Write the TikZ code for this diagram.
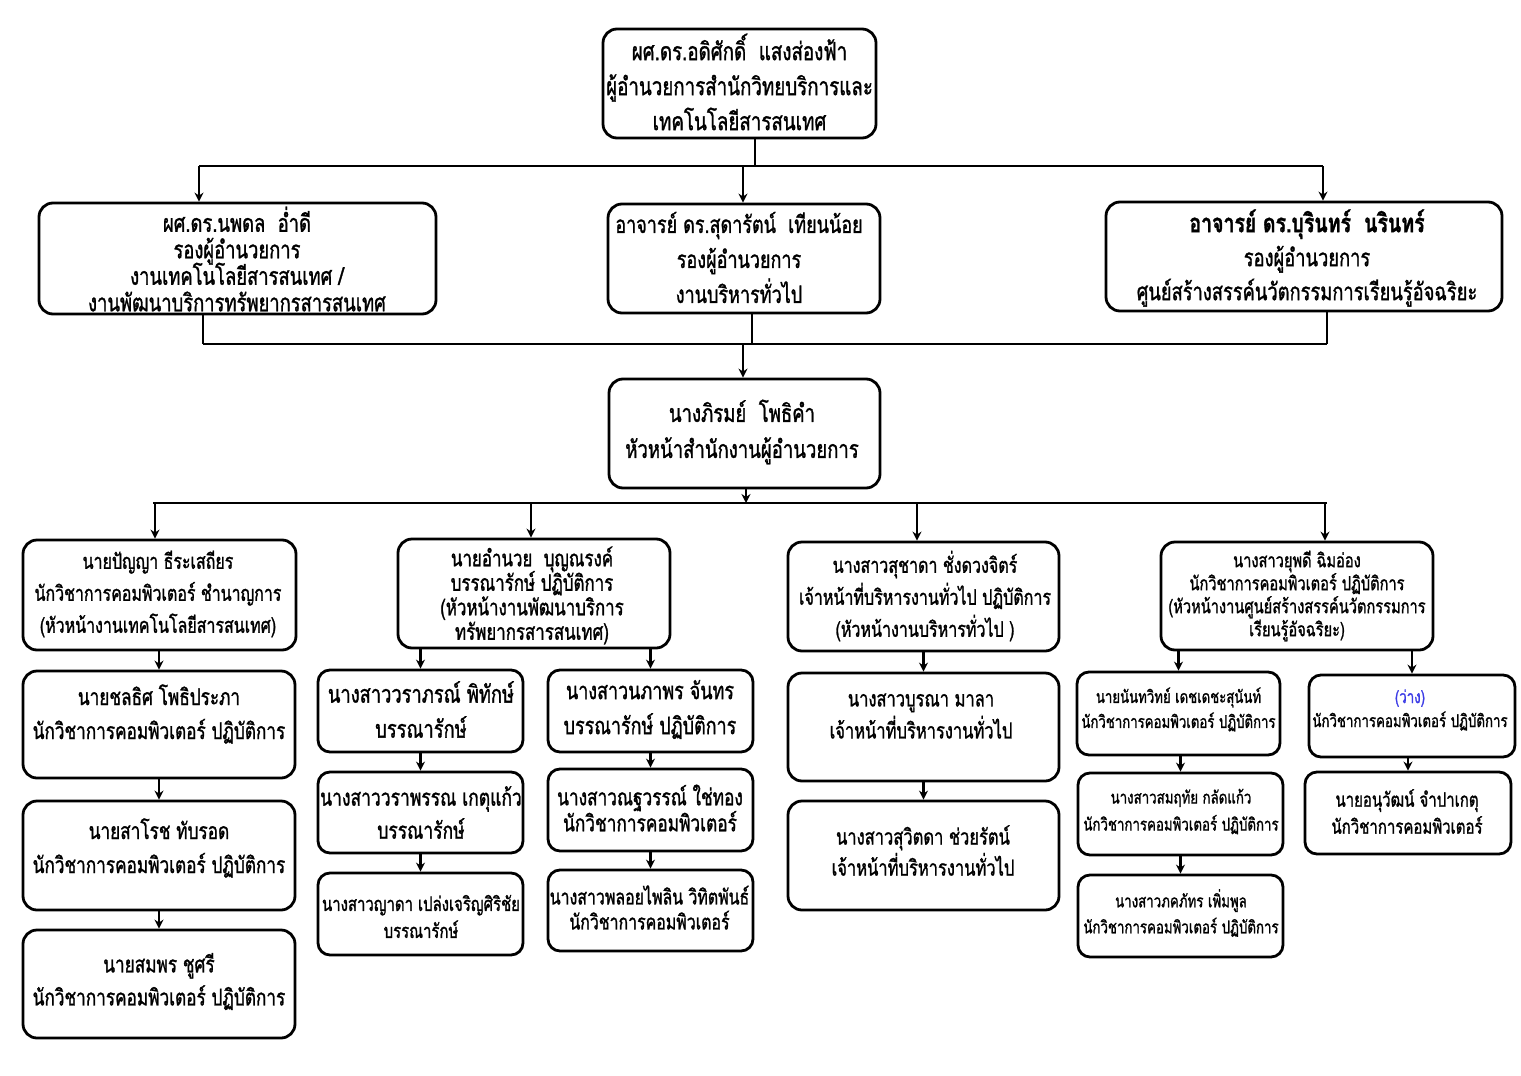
\documentclass[tikz,border=0pt]{standalone}
\usepackage{fontspec}
\setmainfont[Script=Thai, FakeStretch=0.75, FakeBold=1.2]{Loma}
\usetikzlibrary{arrows.meta}
\newcommand\tfs[2]{\fontsize{#1}{#2}\selectfont\lineskiplimit=-100pt\lineskip=0pt}
\definecolor{vacant}{RGB}{60,60,230}
\begin{document}
\begin{tikzpicture}[x=1pt,y=-1pt,
  box/.style={draw, line width=2.8pt, rounded corners=14pt, inner sep=0pt, fill=white},
  sbox/.style={box, rounded corners=12pt},
  txt/.style={align=center, inner sep=0pt, execute at begin node={\lineskiplimit=-100pt\lineskip=0pt}},
  conn/.style={line width=2.2pt},
  bus/.style={line width=2.8pt},
  arr/.style={conn, -{Stealth[length=9pt,width=9pt]}}]
\useasboundingbox (0,0) rectangle (1521,1076);
\fill[white] (0,0) rectangle (1521,1076);

% ---------- boxes ----------
\node[box, minimum width=273pt, minimum height=109pt] (top) at (739.5,83.5) {};
\node[box, minimum width=397pt, minimum height=111pt] (L2a) at (237.5,258.5) {};
\node[box, minimum width=272pt, minimum height=109pt] (L2b) at (744,258.5) {};
\node[box, minimum width=396pt, minimum height=109pt] (L2c) at (1304,256.5) {};
\node[box, minimum width=271pt, minimum height=109pt] (mid) at (744.5,433.5) {};

\node[box, minimum width=273pt, minimum height=110pt] (A) at (159.5,595) {};
\node[box, minimum width=272pt, minimum height=109pt] (B) at (534,593.5) {};
\node[box, minimum width=271pt, minimum height=109pt] (C) at (923.5,596.5) {};
\node[box, minimum width=272pt, minimum height=108pt] (D) at (1297,596) {};

\node[box, minimum width=272pt, minimum height=107pt] (A1) at (159,724.5) {};
\node[box, minimum width=272pt, minimum height=109pt] (A2) at (159,855.5) {};
\node[box, minimum width=272pt, minimum height=108pt] (A3) at (159,984) {};

\node[sbox, minimum width=205pt, minimum height=82pt] (B1) at (420.5,711) {};
\node[sbox, minimum width=205pt, minimum height=81pt] (B1b) at (420.5,812.5) {};
\node[sbox, minimum width=205pt, minimum height=82pt] (B1c) at (420.5,914) {};
\node[sbox, minimum width=205pt, minimum height=82pt] (B2) at (650.5,711) {};
\node[sbox, minimum width=205pt, minimum height=82pt] (B2b) at (650.5,810) {};
\node[sbox, minimum width=205pt, minimum height=81pt] (B2c) at (650.5,910.5) {};

\node[box, minimum width=271pt, minimum height=108pt] (C1) at (923.5,727) {};
\node[box, minimum width=271pt, minimum height=109pt] (C2) at (923.5,855.5) {};

\node[sbox, minimum width=203pt, minimum height=83pt] (D1) at (1178.5,713.5) {};
\node[sbox, minimum width=205pt, minimum height=82pt] (D1b) at (1180.5,814) {};
\node[sbox, minimum width=205pt, minimum height=82pt] (D1c) at (1180.5,916) {};
\node[sbox, minimum width=206pt, minimum height=82pt] (D2) at (1412,716) {};
\node[sbox, minimum width=206pt, minimum height=82pt] (D2b) at (1408,813) {};

% ---------- texts ----------
\node[txt, font=\tfs{25}{35}] (top-t) at (739.5,82) {ผศ.ดร.อดิศักดิ์~~แสงส่องฟ้า\\ผู้อำนวยการสำนักวิทยบริการและ\\เทคโนโลยีสารสนเทศ};
\node[txt, font=\tfs{24.5}{26.5}] (L2a-t) at (237,259) {ผศ.ดร.นพดล~~อ่ำดี\\รองผู้อำนวยการ\\งานเทคโนโลยีสารสนเทศ /\\งานพัฒนาบริการทรัพยากรสารสนเทศ};
\node[txt, font=\tfs{24}{35}] (L2b-t) at (739,257.5) {อาจารย์ ดร.สุดารัตน์~~เทียนน้อย\\รองผู้อำนวยการ\\งานบริหารทั่วไป};
\node[txt, font=\tfs{24.4}{34}] (L2c-t) at (1307,258) {{\bfseries\fontsize{26}{34}\selectfont อาจารย์ ดร.บุรินทร์~~นรินทร์}\\รองผู้อำนวยการ\\ศูนย์สร้างสรรค์นวัตกรรมการเรียนรู้อัจฉริยะ};
\node[txt, font=\tfs{24.7}{36}] (mid-t) at (742,432) {นางภิรมย์~~โพธิคำ\\หัวหน้าสำนักงานผู้อำนวยการ};

\node[txt, font=\tfs{21.3}{32}] (A-t) at (158,594) {นายปัญญา ธีระเสถียร\\นักวิชาการคอมพิวเตอร์ ชำนาญการ\\(หัวหน้างานเทคโนโลยีสารสนเทศ)};
\node[txt, font=\tfs{22.5}{24.5}] (B-t) at (532,595.5) {นายอำนวย~~บุญณรงค์\\บรรณารักษ์ ปฏิบัติการ\\(หัวหน้างานพัฒนาบริการ\\ทรัพยากรสารสนเทศ)};
\node[txt, font=\tfs{21.4}{32}] (C-t) at (925,596) {นางสาวสุชาดา ชั่งดวงจิตร์\\เจ้าหน้าที่บริหารงานทั่วไป ปฏิบัติการ\\(หัวหน้างานบริหารทั่วไป )};
\node[txt, font=\tfs{19.5}{23}] (D-t) at (1297,596) {นางสาวยุพดี ฉิมอ่อง\\นักวิชาการคอมพิวเตอร์ ปฏิบัติการ\\(หัวหน้างานศูนย์สร้างสรรค์นวัตกรรมการ\\เรียนรู้อัจฉริยะ)};

\node[txt, font=\tfs{22.9}{34}] (A1-t) at (159,714) {นายชลธิศ โพธิประภา\\นักวิชาการคอมพิวเตอร์ ปฏิบัติการ};
\node[txt, font=\tfs{22.9}{34}] (A2-t) at (159,848) {นายสาโรช ทับรอด\\นักวิชาการคอมพิวเตอร์ ปฏิบัติการ};
\node[txt, font=\tfs{22.9}{33}] (A3-t) at (159,981.5) {นายสมพร ชูศรี\\นักวิชาการคอมพิวเตอร์ ปฏิบัติการ};

\node[txt, font=\tfs{24.4}{35}] (B1-t) at (421,709.5) {นางสาววราภรณ์ พิทักษ์\\บรรณารักษ์};
\node[txt, font=\tfs{23.3}{33}] (B1b-t) at (421,812.5) {นางสาววราพรรณ เกตุแก้ว\\บรรณารักษ์};
\node[txt, font=\tfs{19.9}{27}] (B1c-t) at (421,916.5) {นางสาวญาดา เปล่งเจริญศิริชัย\\บรรณารักษ์};
\node[txt, font=\tfs{23.9}{35}] (B2-t) at (650,709.5) {นางสาวนภาพร จันทร\\บรรณารักษ์ ปฏิบัติการ};
\node[txt, font=\tfs{23}{26}] (B2b-t) at (650,808) {นางสาวณฐวรรณ์ ใช่ทอง\\นักวิชาการคอมพิวเตอร์};
\node[txt, font=\tfs{21.2}{25}] (B2c-t) at (649.5,907.5) {นางสาวพลอยไพลิน วิทิตพันธ์\\นักวิชาการคอมพิวเตอร์};

\node[txt, font=\tfs{22}{32}] (C1-t) at (921,716) {นางสาวบูรณา มาลา\\เจ้าหน้าที่บริหารงานทั่วไป};
\node[txt, font=\tfs{22}{31}] (C2-t) at (923,850.5) {นางสาวสุวิตดา ช่วยรัตน์\\เจ้าหน้าที่บริหารงานทั่วไป};

\node[txt, font=\tfs{17.6}{25}] (D1-t) at (1178.5,709.5) {นายนันทวิทย์ เดชเดชะสุนันท์\\นักวิชาการคอมพิวเตอร์ ปฏิบัติการ};
\node[txt, font=\tfs{17.7}{27}] (D1b-t) at (1181,811.5) {นางสาวสมฤทัย กลัดแก้ว\\นักวิชาการคอมพิวเตอร์ ปฏิบัติการ};
\node[txt, font=\tfs{17.7}{26}] (D1c-t) at (1181,913) {นางสาวภคภัทร เพิ่มพูล\\นักวิชาการคอมพิวเตอร์ ปฏิบัติการ};
\node[txt, font=\tfs{17.7}{24}] (D2-t) at (1410,710) {{\color{vacant}(ว่าง)}\\นักวิชาการคอมพิวเตอร์ ปฏิบัติการ};
\node[txt, font=\tfs{20}{27}] (D2b-t) at (1407,811.5) {นายอนุวัฒน์ จำปาเกตุ\\นักวิชาการคอมพิวเตอร์};

% ---------- connectors ----------
\coordinate (j1) at (755,166);
\coordinate (b1l) at (199,166);
\coordinate (b1m) at (743,166);
\coordinate (b1r) at (1323,166);
\draw[conn] (top.south -| j1) -- (j1);
\draw[bus] (b1l) -- (b1r);
\draw[arr] (b1l) -- (b1l |- L2a.north);
\draw[arr] (b1m) -- (b1m |- L2b.north);
\draw[arr] (b1r) -- (b1r |- L2c.north);

\coordinate (b2l) at (203,344);
\coordinate (b2c) at (752,344);
\coordinate (b2m) at (743,344);
\coordinate (b2r) at (1327,344);
\draw[conn] (b2l |- L2a.south) -- (b2l);
\draw[conn] (b2c |- L2b.south) -- (b2c);
\draw[conn] (b2r |- L2c.south) -- (b2r);
\draw[bus] (b2l) -- (b2r);
\draw[arr] (b2m) -- (b2m |- mid.north);

\coordinate (b3m) at (746,503);
\coordinate (b3l) at (153,503);
\coordinate (b3r) at (1327,503);
\coordinate (b3a) at (155,503);
\coordinate (b3b) at (531,503);
\coordinate (b3c) at (917,503);
\coordinate (b3d) at (1325,503);
\draw[arr] (b3m |- mid.south) -- (b3m);
\draw[bus] (b3l) -- (b3r);
\draw[arr] (b3a) -- (b3a |- A.north);
\draw[arr] (b3b) -- (b3b |- B.north);
\draw[arr] (b3c) -- (b3c |- C.north);
\draw[arr] (b3d) -- (b3d |- D.north);

\draw[arr] (A1.north |- A.south) -- (A1.north);
\draw[arr] (A1.south) -- (A2.north);
\draw[arr] (A2.south) -- (A3.north);

\draw[arr] (B1.north |- B.south) -- (B1.north);
\draw[arr] (B2.north |- B.south) -- (B2.north);
\draw[arr] (B1.south) -- (B1b.north);
\draw[arr] (B1b.south) -- (B1c.north);
\draw[arr] (B2.south) -- (B2b.north);
\draw[arr] (B2b.south) -- (B2c.north);

\draw[arr] (C1.north |- C.south) -- (C1.north);
\draw[arr] (C1.south) -- (C2.north);

\draw[arr] (D1.north |- D.south) -- (D1.north);
\draw[arr] (D2.north |- D.south) -- (D2.north);
\draw[arr] (D1b.north |- D1.south) -- (D1b.north);
\draw[arr] (D1c.north |- D1b.south) -- (D1c.north);
\draw[arr] (D2b.north |- D2.south) -- (D2b.north);
\end{tikzpicture}
\end{document}
